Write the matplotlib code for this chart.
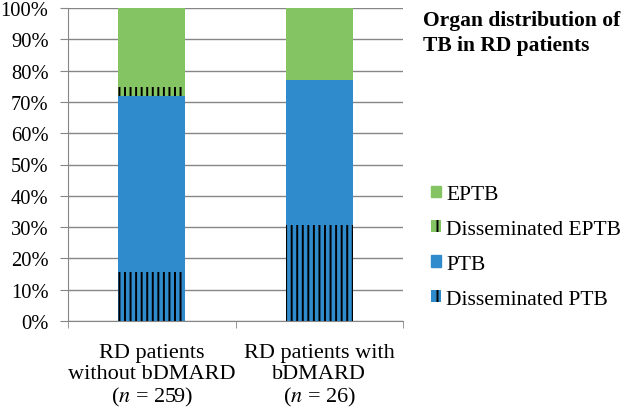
import numpy as np
import matplotlib.pyplot as plt
from matplotlib.patches import Patch

plt.rcParams['font.family'] = ['Liberation Serif', 'DejaVu Serif']
plt.rcParams['mathtext.fontset'] = 'stix'
plt.rcParams['hatch.linewidth'] = 1.4

categories = ['RD patients\nwithout bDMARD\n($\\it{n}$ = 259)',
              'RD patients with\nbDMARD\n($\\it{n}$ = 26)']
series = ['Disseminated PTB', 'PTB', 'Disseminated EPTB', 'EPTB']
dissem_ptb = [15.5, 30.8]
ptb = [56.5, 46.1]
dissem_eptb = [2.7, 0.0]
eptb = [25.3, 23.1]

green = '#84c462'
blue = '#2f8bcc'

fig = plt.figure(figsize=(6.26, 4.10), dpi=100)
ax = fig.add_axes([68 / 626, 1 - 322 / 410, 335 / 626, 313 / 410])

x = np.arange(len(categories))
w = 0.4
bottom = np.zeros(len(categories))
styles = [(blue, '|||'), (blue, None), (green, '|||'), (green, None)]
for vals, (col, hatch) in zip([dissem_ptb, ptb, dissem_eptb, eptb], styles):
    ax.bar(x, vals, w, bottom=bottom, color=col, hatch=hatch,
           edgecolor='black' if hatch else col, linewidth=0, zorder=3)
    bottom += np.array(vals)

ax.set_xlim(-0.5, 1.5)
ax.set_ylim(0, 100)
ax.set_yticks(np.arange(0, 101, 10))
ax.set_yticklabels(['{}%'.format(v) for v in range(0, 101, 10)], fontsize=14.8)
ax.set_xticks(x)
ax.set_xticklabels(categories, fontsize=16, linespacing=1.12)
ax.set_xticks([-0.5, 0.5, 1.5], minor=True)
ax.tick_params(axis='x', which='major', length=0, pad=16)
ax.tick_params(axis='x', which='minor', length=5, color='#868686')
ax.tick_params(axis='y', length=6, color='#868686', pad=8)
ax.grid(axis='y', color='#868686', linewidth=1, zorder=0)
for s in ['top', 'right']:
    ax.spines[s].set_visible(False)
for s in ['left', 'bottom']:
    ax.spines[s].set_color('#868686')

fig.text(423 / 626, 1 - 11 / 410, 'Organ distribution of\nTB in RD patients',
         fontsize=15.5, fontweight='bold', va='top', ha='left', linespacing=1.33)

handles = [Patch(facecolor=green, edgecolor=green),
           Patch(facecolor=green, edgecolor='black', hatch='||', linewidth=0),
           Patch(facecolor=blue, edgecolor=blue),
           Patch(facecolor=blue, edgecolor='black', hatch='||', linewidth=0)]
labels = ['EPTB', 'Disseminated EPTB', 'PTB', 'Disseminated PTB']
fig.legend(handles, labels, loc='upper left', bbox_to_anchor=(431 / 626, 1 - 186 / 410),
           frameon=False, fontsize=15.5, handlelength=0.45, handleheight=0.45,
           handletextpad=0.25, labelspacing=0.74, borderaxespad=0, borderpad=0)

fig.savefig('out.png', dpi=100)
